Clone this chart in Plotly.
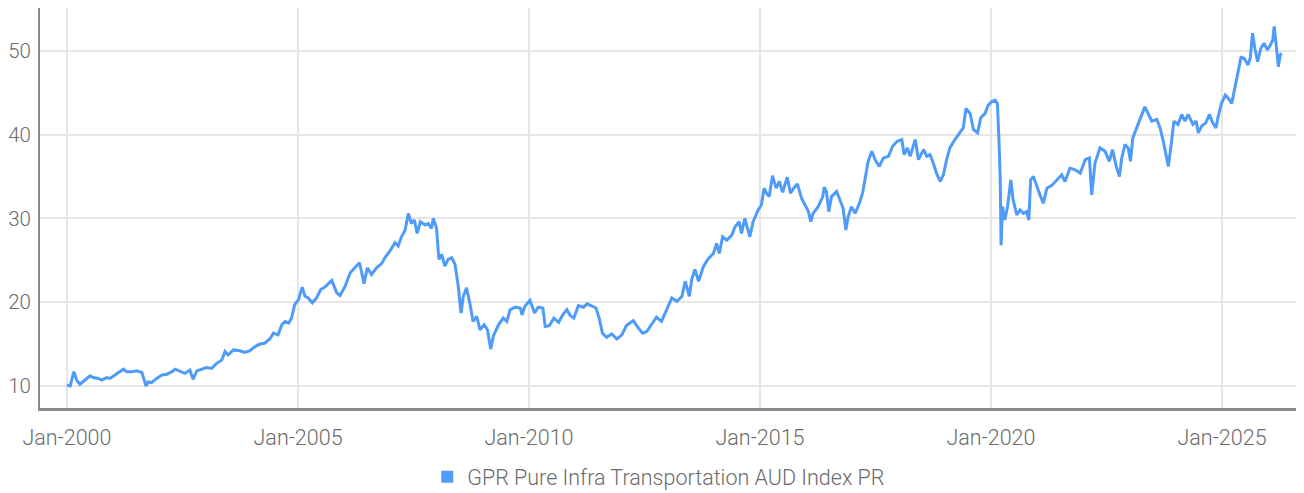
import plotly.graph_objects as go
import pandas as pd

series_name = "GPR Pure Infra Transportation AUD Index PR"

# decimal-year time stamps
t_years = [
    2000.00, 2000.07, 2000.15, 2000.21, 2000.28, 2000.35, 2000.43, 2000.50, 2000.57, 2000.68,
    2000.75, 2000.86, 2000.93, 2001.04, 2001.15, 2001.22, 2001.29, 2001.40, 2001.51, 2001.62,
    2001.67, 2001.71, 2001.76, 2001.83, 2001.94, 2002.05, 2002.16, 2002.27, 2002.34, 2002.45,
    2002.55, 2002.66, 2002.73, 2002.81, 2002.92, 2003.02, 2003.13, 2003.24, 2003.35, 2003.42,
    2003.49, 2003.60, 2003.74, 2003.85, 2003.96, 2004.07, 2004.18, 2004.28, 2004.39, 2004.47,
    2004.57, 2004.65, 2004.72, 2004.80, 2004.86, 2004.93, 2005.01, 2005.09, 2005.15, 2005.22,
    2005.31, 2005.40, 2005.49, 2005.58, 2005.73, 2005.84, 2005.91, 2006.02, 2006.13, 2006.23,
    2006.33, 2006.38, 2006.43, 2006.50, 2006.59, 2006.70, 2006.81, 2006.88, 2006.99, 2007.10,
    2007.17, 2007.24, 2007.32, 2007.39, 2007.45, 2007.52, 2007.58, 2007.65, 2007.75, 2007.82,
    2007.89, 2007.93, 2008.00, 2008.05, 2008.11, 2008.18, 2008.25, 2008.33, 2008.40, 2008.47,
    2008.53, 2008.58, 2008.65, 2008.72, 2008.79, 2008.87, 2008.94, 2009.03, 2009.10, 2009.17,
    2009.23, 2009.34, 2009.44, 2009.52, 2009.59, 2009.70, 2009.81, 2009.85, 2009.91, 2010.02,
    2010.12, 2010.20, 2010.30, 2010.35, 2010.44, 2010.54, 2010.64, 2010.73, 2010.82, 2010.89,
    2010.97, 2011.07, 2011.18, 2011.26, 2011.36, 2011.45, 2011.52, 2011.59, 2011.68, 2011.79,
    2011.90, 2012.01, 2012.11, 2012.26, 2012.37, 2012.46, 2012.55, 2012.66, 2012.76, 2012.87,
    2012.98, 2013.09, 2013.20, 2013.31, 2013.38, 2013.47, 2013.52, 2013.59, 2013.67, 2013.77,
    2013.88, 2013.99, 2014.06, 2014.12, 2014.19, 2014.28, 2014.39, 2014.46, 2014.55, 2014.60,
    2014.67, 2014.78, 2014.85, 2014.96, 2015.03, 2015.09, 2015.14, 2015.20, 2015.27, 2015.35,
    2015.42, 2015.49, 2015.59, 2015.66, 2015.73, 2015.81, 2015.90, 2015.97, 2016.05, 2016.10,
    2016.15, 2016.26, 2016.36, 2016.39, 2016.44, 2016.49, 2016.55, 2016.66, 2016.73, 2016.80,
    2016.86, 2016.91, 2016.98, 2017.06, 2017.15, 2017.22, 2017.27, 2017.34, 2017.42, 2017.49,
    2017.58, 2017.67, 2017.78, 2017.87, 2017.97, 2018.07, 2018.12, 2018.19, 2018.25, 2018.36,
    2018.43, 2018.54, 2018.61, 2018.68, 2018.75, 2018.82, 2018.90, 2018.97, 2019.04, 2019.11,
    2019.22, 2019.33, 2019.40, 2019.46, 2019.55, 2019.62, 2019.71, 2019.78, 2019.87, 2019.94,
    2020.01, 2020.09, 2020.14, 2020.17, 2020.20, 2020.22, 2020.25, 2020.30, 2020.36, 2020.43,
    2020.48, 2020.56, 2020.63, 2020.70, 2020.77, 2020.82, 2020.86, 2020.92, 2020.99, 2021.06,
    2021.13, 2021.21, 2021.31, 2021.42, 2021.53, 2021.60, 2021.71, 2021.82, 2021.93, 2022.04,
    2022.13, 2022.18, 2022.25, 2022.36, 2022.47, 2022.56, 2022.63, 2022.71, 2022.78, 2022.83,
    2022.90, 2022.97, 2023.02, 2023.07, 2023.14, 2023.21, 2023.28, 2023.33, 2023.41, 2023.48,
    2023.59, 2023.66, 2023.73, 2023.79, 2023.84, 2023.90, 2023.96, 2024.05, 2024.13, 2024.20,
    2024.27, 2024.37, 2024.44, 2024.49, 2024.56, 2024.65, 2024.73, 2024.80, 2024.87, 2024.92,
    2024.99, 2025.07, 2025.14, 2025.21, 2025.28, 2025.35, 2025.41, 2025.48, 2025.56, 2025.61,
    2025.66, 2025.71, 2025.77, 2025.84, 2025.91, 2025.98, 2026.05, 2026.10, 2026.13, 2026.18,
    2026.22, 2026.26, 2026.29,
]

index_values = [
    10.1, 10.0, 11.7, 10.7, 10.2, 10.5, 10.9, 11.2, 11.0, 10.9,
    10.7, 11.0, 10.9, 11.3, 11.7, 12.0, 11.7, 11.7, 11.8, 11.6,
    10.7, 10.0, 10.5, 10.4, 10.9, 11.3, 11.4, 11.7, 12.0, 11.7,
    11.5, 11.9, 10.8, 11.8, 12.0, 12.2, 12.1, 12.7, 13.1, 14.1,
    13.7, 14.3, 14.2, 14.0, 14.2, 14.7, 15.0, 15.1, 15.6, 16.3,
    16.1, 17.3, 17.7, 17.5, 18.1, 19.7, 20.3, 21.8, 20.7, 20.5,
    19.9, 20.5, 21.5, 21.8, 22.6, 21.1, 20.8, 21.9, 23.5, 24.1,
    24.7, 23.5, 22.2, 24.1, 23.3, 24.1, 24.6, 25.3, 26.1, 27.1,
    26.7, 27.8, 28.6, 30.6, 29.4, 29.8, 28.2, 29.6, 29.2, 29.4,
    28.8, 30.0, 28.8, 25.1, 25.7, 24.3, 25.1, 25.3, 24.5, 21.9,
    18.7, 20.7, 21.7, 19.9, 17.7, 18.3, 16.7, 17.3, 16.7, 14.4,
    16.0, 17.3, 18.1, 17.7, 19.1, 19.4, 19.3, 18.5, 19.5, 20.2,
    18.7, 19.4, 19.3, 17.1, 17.2, 18.1, 17.6, 18.5, 19.1, 18.4,
    18.1, 19.6, 19.4, 19.8, 19.5, 19.3, 18.1, 16.3, 15.8, 16.2,
    15.6, 16.1, 17.2, 17.8, 16.9, 16.3, 16.5, 17.4, 18.2, 17.7,
    19.1, 20.5, 20.1, 20.7, 22.5, 20.7, 22.7, 23.9, 22.5, 24.2,
    25.2, 25.8, 27.0, 25.8, 27.8, 27.4, 28.0, 29.0, 29.6, 28.2,
    30.0, 27.8, 29.6, 31.0, 31.6, 33.6, 33.0, 32.6, 35.1, 33.6,
    34.4, 33.1, 34.9, 33.0, 33.6, 34.1, 32.4, 31.6, 30.8, 29.6,
    30.6, 31.4, 32.6, 33.7, 33.2, 30.8, 32.6, 33.2, 32.2, 31.2,
    28.6, 30.2, 31.4, 30.6, 31.8, 33.0, 34.6, 36.8, 38.0, 37.0,
    36.2, 37.2, 37.4, 38.6, 39.2, 39.4, 37.6, 38.4, 37.4, 39.4,
    37.0, 38.2, 37.4, 37.6, 36.6, 35.4, 34.4, 35.2, 37.0, 38.4,
    39.4, 40.2, 40.8, 43.1, 42.5, 40.6, 40.2, 42.0, 42.5, 43.5,
    43.9, 44.1, 43.7, 39.8, 35.0, 26.8, 31.4, 29.8, 31.4, 34.6,
    32.2, 30.4, 31.0, 30.6, 30.8, 29.8, 34.6, 35.0, 33.8, 32.8,
    31.8, 33.6, 33.9, 34.6, 35.2, 34.4, 36.0, 35.8, 35.4, 37.0,
    37.2, 32.8, 36.6, 38.4, 38.0, 36.8, 38.2, 36.2, 35.0, 37.2,
    38.8, 38.4, 36.8, 39.6, 40.6, 41.6, 42.7, 43.3, 42.4, 41.6,
    41.8, 40.8, 39.2, 37.6, 36.2, 38.8, 41.6, 41.2, 42.4, 41.6,
    42.4, 41.2, 41.6, 40.2, 41.0, 41.4, 42.4, 41.4, 40.8, 42.2,
    43.7, 44.7, 44.3, 43.7, 45.7, 47.9, 49.2, 49.1, 48.3, 49.1,
    52.1, 50.3, 48.7, 50.3, 50.9, 50.1, 50.7, 51.3, 52.9, 50.3,
    48.1, 49.5, 49.7,
]

y_ticks = [10, 20, 30, 40, 50]


def to_date(y):
    base = pd.Timestamp(int(y), 1, 1)
    return base + pd.Timedelta(days=(y - int(y)) * 365.25)


dates = [to_date(y) for y in t_years]

line_color = "#4F9BF9"
text_color = "#6b6b6b"
font_family = "Roboto, 'Liberation Sans Narrow', Arial, sans-serif"

fig = go.Figure()
fig.add_trace(go.Scatter(
    x=dates, y=index_values, mode="lines",
    line=dict(color=line_color, width=3),
    name=series_name, showlegend=False,
))
# legend entry drawn as a square swatch
fig.add_trace(go.Scatter(
    x=[None], y=[None], mode="markers",
    marker=dict(symbol="square", size=11, color=line_color),
    name=series_name, showlegend=True,
))

fig.update_layout(
    width=1296, height=485,
    margin=dict(l=32, r=0, t=0, b=85, autoexpand=False),
    paper_bgcolor="white", plot_bgcolor="white",
    font=dict(family=font_family, size=21.5, color=text_color, weight=300),
    showlegend=True,
    legend=dict(
        orientation="h", x=0.4895, xanchor="center", y=-0.172, yanchor="middle",
        font=dict(size=21.5, color=text_color), itemsizing="constant",
        itemwidth=30,
    ),
)
fig.update_xaxes(
    type="date",
    range=[to_date(1999.416), to_date(2026.775)],
    tick0="2000-01-01", dtick="M60", tickformat="%b-%Y",
    showgrid=True, gridcolor="#e6e6e6", gridwidth=2,
    showline=True, linecolor="#8a8a8a", linewidth=2.5,
    ticks="outside", ticklen=8, tickcolor="rgba(0,0,0,0)",
    zeroline=False,
    tickfont=dict(size=21.5, color=text_color),
)
fig.update_yaxes(
    range=[7.37, 55.1],
    tickvals=y_ticks,
    showgrid=True, gridcolor="#e6e6e6", gridwidth=2,
    showline=True, linecolor="#8a8a8a", linewidth=2,
    zeroline=False,
    ticks="outside", ticklen=3, tickcolor="rgba(0,0,0,0)",
    tickfont=dict(size=20.5, color=text_color),
)

fig.write_html("out.html")
